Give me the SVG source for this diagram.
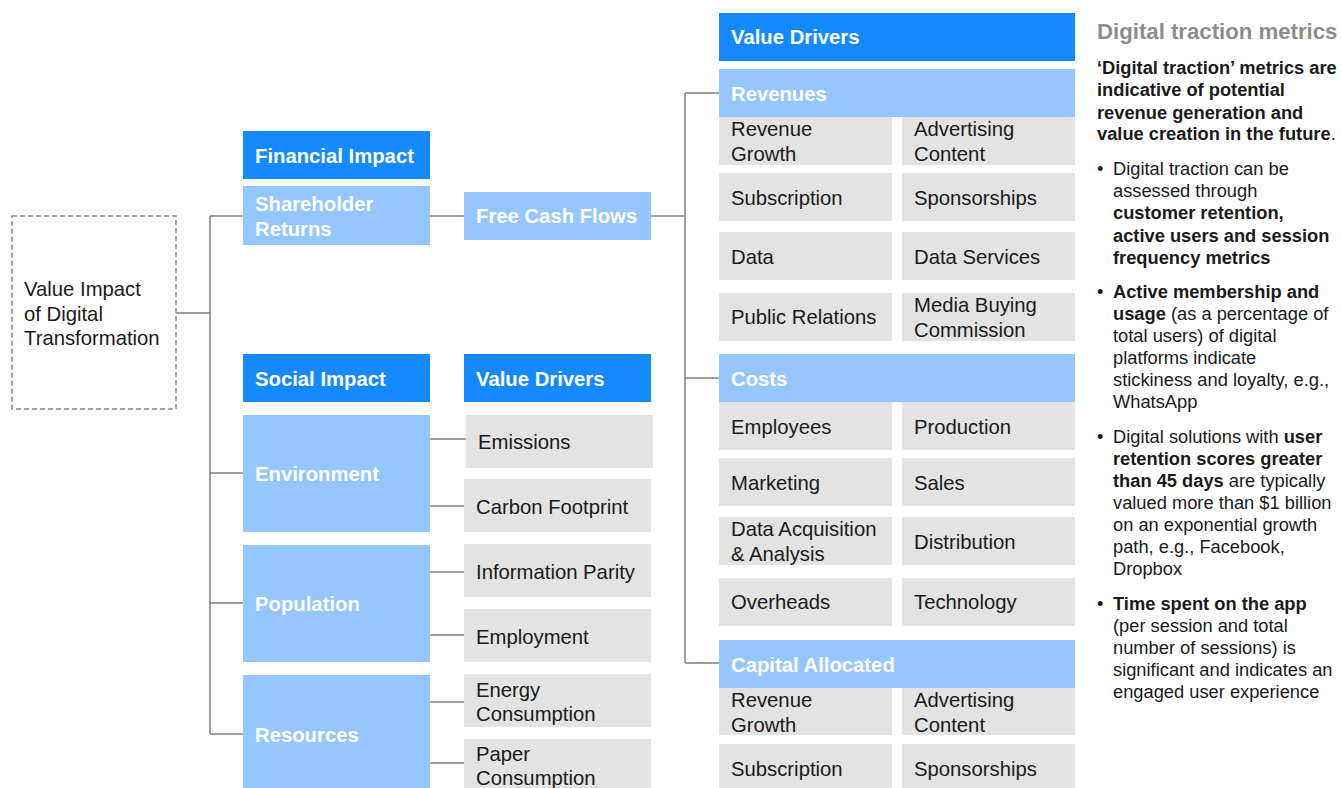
<svg xmlns="http://www.w3.org/2000/svg" width="1342" height="788" viewBox="0 0 1342 788">
<style>
text{font-family:"Liberation Sans",Arial,sans-serif}
.hd{fill:#1589ff}
.lb{fill:#96c6ff}
.cell{fill:#e3e3e3}
.wt{fill:#fff;font-weight:bold;font-size:20.3px}
.ct{fill:#1a1a1a;font-size:20.3px}
.conn{stroke:#808080;stroke-width:1.5;fill:none}
.rt{font-size:18.3px;fill:#1a1a1a}
.b{font-weight:bold}
</style>
<rect width="1342" height="788" fill="#fff"/>
<g id="connectors">
<path class="conn" d="M176 313H210M210 216V734M210 216H243M210 473H243M210 603H243M210 734H243"/>
<path class="conn" d="M430 216H464M651 216H685M685 93V663M685 93H719M685 378H719M685 663H719"/>
<path class="conn" d="M430 439H466M430 506H464M430 572H464M430 635H464M430 702H464M430 763H464"/>
</g>
<g id="root">
<rect x="12" y="216" width="164" height="193" fill="#fff" stroke="#8c8c8c" stroke-width="1.5" stroke-dasharray="5 3"/>
<text class="ct" x="24" y="296">Value Impact</text>
<text class="ct" x="24" y="321">of Digital</text>
<text class="ct" x="24" y="345">Transformation</text>
</g>
<g id="financial-impact"><rect class="hd" x="243" y="131" width="187" height="48"/><text class="wt" x="255" y="163">Financial Impact</text></g>
<g id="shareholder-returns"><rect class="lb" x="243" y="186" width="187" height="59"/><text class="wt" x="255" y="211">Shareholder</text><text class="wt" x="255" y="236">Returns</text></g>
<g id="free-cash-flows"><rect class="lb" x="464" y="192" width="187" height="48"/><text class="wt" x="476" y="223">Free Cash Flows</text></g>
<g id="social-impact"><rect class="hd" x="243" y="354" width="187" height="48"/><text class="wt" x="255" y="386">Social Impact</text></g>
<g id="social-value-drivers"><rect class="hd" x="464" y="354" width="187" height="48"/><text class="wt" x="476" y="386">Value Drivers</text></g>
<g id="environment"><rect class="lb" x="243" y="415" width="187" height="117"/><text class="wt" x="255" y="481">Environment</text></g>
<g id="population"><rect class="lb" x="243" y="545" width="187" height="117"/><text class="wt" x="255" y="611">Population</text></g>
<g id="resources"><rect class="lb" x="243" y="675" width="187" height="113"/><text class="wt" x="255" y="742">Resources</text></g>
<g id="emissions"><rect class="cell" x="466" y="415" width="187" height="53"/><text class="ct" x="478" y="449">Emissions</text></g>
<g id="carbon-footprint"><rect class="cell" x="464" y="479" width="187" height="53"/><text class="ct" x="476" y="514">Carbon Footprint</text></g>
<g id="information-parity"><rect class="cell" x="464" y="544" width="187" height="53"/><text class="ct" x="476" y="579">Information Parity</text></g>
<g id="employment"><rect class="cell" x="464" y="609" width="187" height="53"/><text class="ct" x="476" y="644">Employment</text></g>
<g id="energy-consumption"><rect class="cell" x="464" y="674" width="187" height="53"/><text class="ct" x="476" y="697">Energy</text><text class="ct" x="476" y="721">Consumption</text></g>
<g id="paper-consumption"><rect class="cell" x="464" y="739" width="187" height="49"/><text class="ct" x="476" y="761">Paper</text><text class="ct" x="476" y="785">Consumption</text></g>
<g id="value-drivers"><rect class="hd" x="719" y="13" width="356" height="48"/><text class="wt" x="731" y="44">Value Drivers</text></g>
<g id="revenues"><rect class="lb" x="719" y="69" width="356" height="48"/><text class="wt" x="731" y="101">Revenues</text>
<rect class="cell" x="719" y="117" width="173" height="48"/><text class="ct" x="731" y="136">Revenue</text><text class="ct" x="731" y="161">Growth</text>
<rect class="cell" x="902" y="117" width="173" height="48"/><text class="ct" x="914" y="136">Advertising</text><text class="ct" x="914" y="161">Content</text>
<rect class="cell" x="719" y="173" width="173" height="48"/><text class="ct" x="731" y="205">Subscription</text>
<rect class="cell" x="902" y="173" width="173" height="48"/><text class="ct" x="914" y="205">Sponsorships</text>
<rect class="cell" x="719" y="232" width="173" height="48"/><text class="ct" x="731" y="264">Data</text>
<rect class="cell" x="902" y="232" width="173" height="48"/><text class="ct" x="914" y="264">Data Services</text>
<rect class="cell" x="719" y="293" width="173" height="48"/><text class="ct" x="731" y="324">Public Relations</text>
<rect class="cell" x="902" y="293" width="173" height="48"/><text class="ct" x="914" y="312">Media Buying</text><text class="ct" x="914" y="337">Commission</text>
</g>
<g id="costs"><rect class="lb" x="719" y="354" width="356" height="48"/><text class="wt" x="731" y="386">Costs</text>
<rect class="cell" x="719" y="402" width="173" height="48"/><text class="ct" x="731" y="434">Employees</text>
<rect class="cell" x="902" y="402" width="173" height="48"/><text class="ct" x="914" y="434">Production</text>
<rect class="cell" x="719" y="458" width="173" height="48"/><text class="ct" x="731" y="490">Marketing</text>
<rect class="cell" x="902" y="458" width="173" height="48"/><text class="ct" x="914" y="490">Sales</text>
<rect class="cell" x="719" y="517" width="173" height="48"/><text class="ct" x="731" y="536">Data Acquisition</text><text class="ct" x="731" y="561">&amp; Analysis</text>
<rect class="cell" x="902" y="517" width="173" height="48"/><text class="ct" x="914" y="549">Distribution</text>
<rect class="cell" x="719" y="578" width="173" height="48"/><text class="ct" x="731" y="609">Overheads</text>
<rect class="cell" x="902" y="578" width="173" height="48"/><text class="ct" x="914" y="609">Technology</text>
</g>
<g id="capital-allocated"><rect class="lb" x="719" y="640" width="356" height="48"/><text class="wt" x="731" y="672">Capital Allocated</text>
<rect class="cell" x="719" y="688" width="173" height="47"/><text class="ct" x="731" y="707">Revenue</text><text class="ct" x="731" y="732">Growth</text>
<rect class="cell" x="902" y="688" width="173" height="47"/><text class="ct" x="914" y="707">Advertising</text><text class="ct" x="914" y="732">Content</text>
<rect class="cell" x="719" y="744" width="173" height="44"/><text class="ct" x="731" y="776">Subscription</text>
<rect class="cell" x="902" y="744" width="173" height="44"/><text class="ct" x="914" y="776">Sponsorships</text>
</g>
<g id="digital-traction-metrics">
<text x="1097" y="39" font-size="22.2" font-weight="bold" fill="#8c8c8c">Digital traction metrics</text>
<text class="rt b" x="1097" y="74">‘Digital traction’ metrics are</text>
<text class="rt b" x="1097" y="96">indicative of potential</text>
<text class="rt b" x="1097" y="119">revenue generation and</text>
<text class="rt" x="1097" y="140"><tspan class="b">value creation in the future</tspan>.</text>
<text class="rt" x="1097" y="175">•</text>
<text class="rt" x="1113" y="175">Digital traction can be</text>
<text class="rt" x="1113" y="197">assessed through</text>
<text class="rt b" x="1113" y="219">customer retention,</text>
<text class="rt b" x="1113" y="242">active users and session</text>
<text class="rt b" x="1113" y="264">frequency metrics</text>
<text class="rt" x="1097" y="298">•</text>
<text class="rt b" x="1113" y="298">Active membership and</text>
<text class="rt" x="1113" y="320"><tspan class="b">usage</tspan> (as a percentage of</text>
<text class="rt" x="1113" y="342">total users) of digital</text>
<text class="rt" x="1113" y="364">platforms indicate</text>
<text class="rt" x="1113" y="386">stickiness and loyalty, e.g.,</text>
<text class="rt" x="1113" y="408">WhatsApp</text>
<text class="rt" x="1097" y="443">•</text>
<text class="rt" x="1113" y="443">Digital solutions with <tspan class="b">user</tspan></text>
<text class="rt b" x="1113" y="465">retention scores greater</text>
<text class="rt" x="1113" y="487"><tspan class="b">than 45 days</tspan> are typically</text>
<text class="rt" x="1113" y="509">valued more than $1 billion</text>
<text class="rt" x="1113" y="531">on an exponential growth</text>
<text class="rt" x="1113" y="553">path, e.g., Facebook,</text>
<text class="rt" x="1113" y="575">Dropbox</text>
<text class="rt" x="1097" y="610">•</text>
<text class="rt b" x="1113" y="610">Time spent on the app</text>
<text class="rt" x="1113" y="632">(per session and total</text>
<text class="rt" x="1113" y="654">number of sessions) is</text>
<text class="rt" x="1113" y="676">significant and indicates an</text>
<text class="rt" x="1113" y="698">engaged user experience</text>
</g>
</svg>
